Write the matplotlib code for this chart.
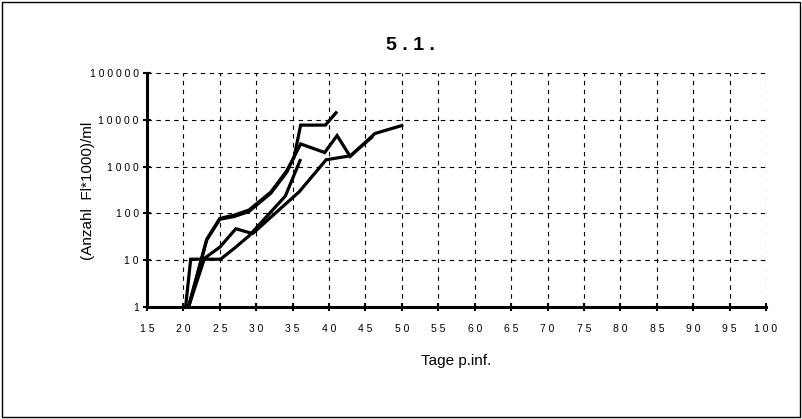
import matplotlib
matplotlib.use("Agg")
import matplotlib.pyplot as plt
from matplotlib.patches import Rectangle
from matplotlib.ticker import FixedLocator, FixedFormatter, NullLocator

plt.rcParams['font.family'] = ['Liberation Sans', 'DejaVu Sans']

# Growth curves (days post infection vs. count per ml, log scale)
days_a = [20.7, 23.2, 25, 27, 29, 32, 34.2, 35.2, 36.1, 39.5, 41.1]
vals_a = [1, 28, 78, 92, 118, 285, 820, 1600, 7700, 7700, 15000]

days_b = [20.7, 23.2, 25, 27, 29, 32, 34.2, 35.0, 36.1, 39.4, 41.1, 42.9, 46.3, 50.2]
vals_b = [1, 27, 75, 86, 110, 270, 760, 1400, 3050, 2000, 4600, 1650, 5100, 7700]

days_c = [20.3, 21, 25.1, 27, 29, 34, 36.1]
vals_c = [1, 10.5, 10.5, 18, 33, 235, 1450]

days_d = [20.7, 22.9, 25, 27.2, 29.5, 35.9, 39.6, 42.9, 46.0]
vals_d = [1, 11, 19, 47, 37, 290, 1400, 1700, 4400]

x_ticks = list(range(15, 101, 5))
y_ticks = [1, 10, 100, 1000, 10000, 100000]

title = "5.1."
x_label = "Tage p.inf."
y_label = "(Anzahl  Fl*1000)/ml"


def spaced(s):
    return " ".join(s)


fig = plt.figure(figsize=(8.02, 4.19), dpi=100)
fig.patch.set_facecolor("white")

# outer frame
fig.add_artist(Rectangle((0.003, 0.005), 0.994, 0.99, transform=fig.transFigure,
                         fill=False, edgecolor="black", linewidth=1.0))

ax = fig.add_axes([147 / 802, (419 - 307) / 419, (766 - 147) / 802, (307 - 73) / 419])
ax.set_yscale("log")
ax.set_xlim(15, 100)
ax.set_ylim(1, 100000)

for xs, ys in [(days_a, vals_a), (days_b, vals_b), (days_c, vals_c), (days_d, vals_d)]:
    ax.plot(xs, ys, color="black", linewidth=2.3, solid_joinstyle="miter",
            solid_capstyle="butt", clip_on=True, zorder=3)

# dashed grid
for xv in x_ticks[1:]:
    ax.axvline(xv, color="black", linewidth=0.8, linestyle=(0, (4, 4)), zorder=1)
for yv in y_ticks[1:]:
    ax.axhline(yv, color="black", linewidth=0.8, linestyle=(0, (4, 4)), zorder=1)

for side in ("top", "right"):
    ax.spines[side].set_visible(False)
for side in ("left", "bottom"):
    ax.spines[side].set_linewidth(2.2)
    ax.spines[side].set_zorder(4)

ax.xaxis.set_major_locator(FixedLocator(x_ticks))
ax.xaxis.set_major_formatter(FixedFormatter([spaced(str(v)) for v in x_ticks]))
ax.yaxis.set_major_locator(FixedLocator(y_ticks))
ax.yaxis.set_major_formatter(FixedFormatter([spaced(str(v)) for v in y_ticks]))
ax.yaxis.set_minor_locator(NullLocator())
ax.xaxis.set_minor_locator(NullLocator())

ax.tick_params(axis="x", direction="inout", length=6, width=1.5, pad=9, labelsize=7.5)
ax.tick_params(axis="y", direction="inout", length=6, width=1.5, pad=3, labelsize=7.5)

fig.text(410 / 802, 1 - 45 / 419, spaced(title), ha="center", va="center",
         fontsize=14, fontweight="bold")
fig.text(456 / 802, 1 - 361 / 419, x_label, ha="center", va="center", fontsize=11)
fig.text(88 / 802, 1 - 191 / 419, y_label, ha="center", va="center", fontsize=11, rotation=90)

fig.savefig("out.png", dpi=100, facecolor="white")
